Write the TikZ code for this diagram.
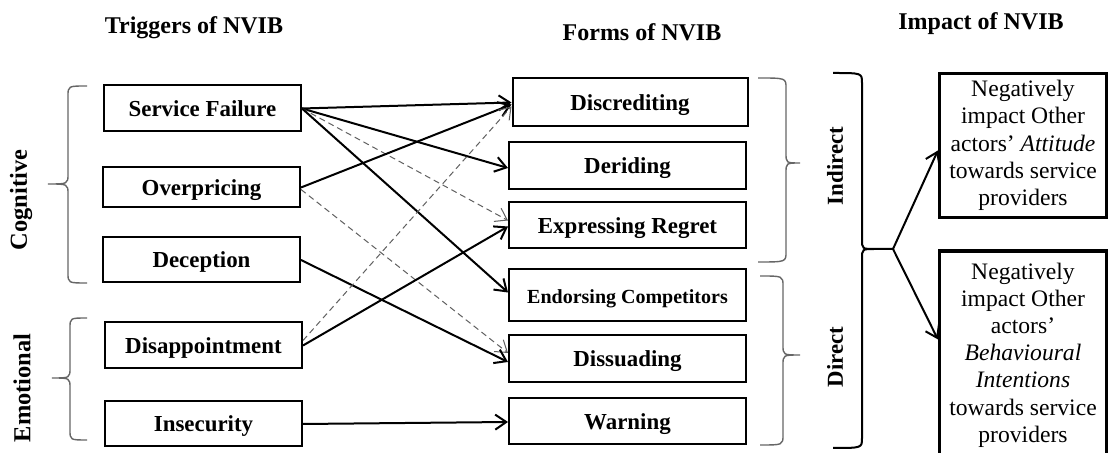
\documentclass[tikz,border=0pt]{standalone}
\usepackage{fontspec}
\setmainfont{Liberation Serif}
\usetikzlibrary{arrows.meta,calc}
\newcommand{\Brk}[7][]{% tip x, vertical x, cusp x, top y, cusp y, bottom y
  \draw[#1] (#2,#5) .. controls (#3,#5) .. (#3,#5+10) -- (#3,#6-10) .. controls (#3,#6) .. (#4,#6)
    .. controls (#3,#6) .. (#3,#6+10) -- (#3,#7-10) .. controls (#3,#7) .. (#2,#7);}
\begin{document}
\begin{tikzpicture}[x=0.5pt,y=-0.5pt,
  box/.style={draw,line width=1pt,inner sep=0pt,text height=0.9em,text depth=0.1em,
    font=\fontsize{11.45}{13}\selectfont\bfseries},
  lbox/.style={box,minimum width=98.5pt},
  mbox/.style={box,minimum width=118.5pt},
  rbox/.style={draw,line width=1.6pt,inner sep=0pt,minimum width=83.5pt,align=center,
    font=\fontsize{11.8}{13.6}\selectfont},
  head/.style={font=\fontsize{12}{14}\selectfont\bfseries},
  side/.style={rotate=90,font=\fontsize{12.2}{14}\selectfont\bfseries},
  arr/.style={line width=1pt,-{Straight Barb[length=5.5pt,width=7.5pt]}},
  darr/.style={line width=0.5pt,gray!75!black,dash pattern=on 3pt off 2pt,-{Straight Barb[length=5.5pt,width=7.5pt]}},
  gbrace/.style={line width=0.7pt,gray!80!black},
  kbrace/.style={line width=1pt,black}]
\useasboundingbox (0,0) rectangle (1109,453);
\fill[white] (0,0) rectangle (1109,453);
% headers
\node[head] (h1) at (194,28) {Triggers of NVIB};
\node[head] (h2) at (642,32) {Forms of NVIB};
\node[head] (h3) at (981,24) {Impact of NVIB};
% left boxes
\node[lbox,minimum height=23pt] (sf) at (202.5,108.5) {Service Failure};
\node[lbox,minimum height=20pt] (op) at (201.5,187.5) {Overpricing};
\node[lbox,minimum height=22.5pt] (dc) at (201.5,260) {Deception};
\node[lbox,minimum height=23pt] (da) at (203.5,345.5) {Disappointment};
\node[lbox,minimum height=22.5pt] (ins) at (203.5,424) {Insecurity};
% middle boxes
\node[mbox,minimum height=24pt,minimum width=117.5pt] (disc) at (630,102.5) {Discrediting};
\node[mbox,minimum height=23.5pt] (der) at (627.5,166) {Deriding};
\node[mbox,minimum height=23pt] (exp) at (627.5,225.5) {Expressing Regret};
\node[mbox,minimum height=26pt,font=\fontsize{10}{12}\selectfont\bfseries] (endc) at (627.5,295.5) {Endorsing Competitors};
\node[mbox,minimum height=23.5pt] (dis) at (627.5,359) {Dissuading};
\node[mbox,minimum height=23pt] (war) at (627.5,421.5) {Warning};
% right boxes
\node[rbox,minimum height=72pt] (att) at (1023,145.5)
  {Negatively\\ impact Other\\ actors’~\textit{Attitude}\\ towards service\\ providers};
\node[rbox,minimum height=104pt] (beh) at (1023,355)
  {Negatively\\ impact Other\\ actors’\\ \textit{Behavioural}\\ \textit{Intentions}\\ towards service\\ providers};
% side labels
\node[side] (cog) at (21,200) {Cognitive};
\node[side] (emo) at (22,388) {Emotional};
\node[side,font=\fontsize{11.4}{14}\selectfont\bfseries] (ind) at (835,166) {Indirect};
\node[side,font=\fontsize{11.4}{14}\selectfont\bfseries] (dir) at (835,357) {Direct};
% braces
\Brk[gbrace]{87}{68}{48}{86}{184}{283}
\Brk[gbrace]{87}{70}{52}{318}{378}{440}
\Brk[gbrace]{758}{786}{800}{78}{163}{262}
\Brk[gbrace]{760}{783}{800}{276}{355}{445}
\coordinate (split) at (893,249);
\draw[kbrace] (833,73) .. controls (862,73) .. (862,83) -- (862,239) .. controls (862,249) .. (875,249) -- (split)
  (875,249) .. controls (862,249) .. (862,259) -- (862,438) .. controls (862,448) .. (833,448);
% arrows
\draw[arr] (sf.east) -- (disc.west);
\draw[arr] (sf.east) -- ($(der.west)+(0,2)$);
\draw[darr] (sf.east) -- ($(exp.west)+(0,-5)$);
\draw[arr] (sf.east) -- ($(endc.west)+(0,-3)$);
\draw[arr] (op.east) -- ($(disc.west)+(0,2)$);
\draw[darr] ($(op.east)+(0,2)$) -- ($(dis.west)+(0,-6)$);
\draw[arr] (dc.east) -- ($(dis.west)+(0,3)$);
\draw[arr] (da.east) -- ($(exp.west)+(0,1)$);
\draw[darr] ($(da.east)+(0,-5)$) -- ($(disc.west)+(0,4)$);
\draw[arr] (ins.east) -- ($(war.west)+(0,0.5)$);
\draw[arr] (split) -- ($(att.west)+(0,5)$);
\draw[arr] (split) -- ($(beh.north west)+(0,90)$);
\end{tikzpicture}
\end{document}
